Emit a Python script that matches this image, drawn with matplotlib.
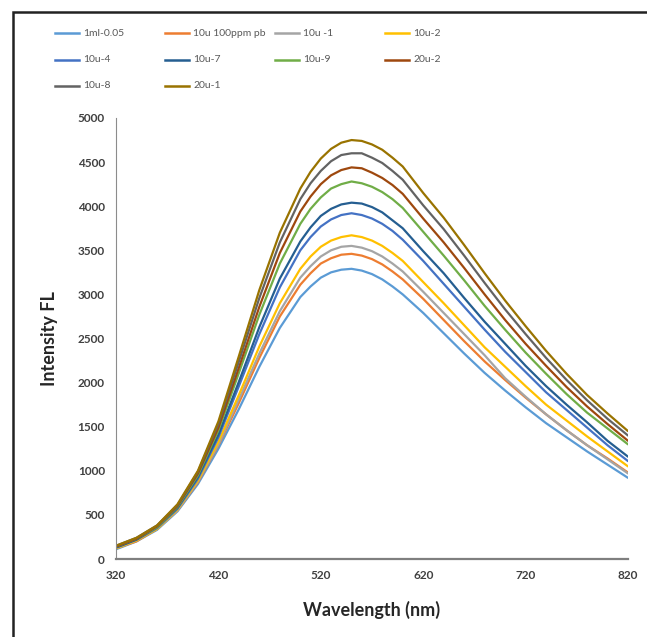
import numpy as np
import matplotlib.pyplot as plt
from matplotlib.lines import Line2D
from matplotlib.patches import Rectangle

plt.rcParams['font.family'] = ['Lato', 'DejaVu Sans']

# wavelength grid (nm), finer around the peak
wavelength = [320, 340, 360, 380, 400, 420, 440, 460, 480, 500, 510, 520, 530, 540, 550,
              560, 570, 580, 590, 600, 620, 640, 660, 680, 700, 720, 740, 760, 780, 800, 820]

# intensities
ml_005 = [110, 200, 330, 540, 850, 1250, 1700, 2180, 2620, 2970, 3090, 3190, 3250, 3280, 3290,
          3270, 3230, 3170, 3090, 3000, 2790, 2560, 2330, 2110, 1910, 1720, 1540, 1380, 1220, 1070, 920]
u10_pb = [120, 200, 340, 550, 870, 1290, 1770, 2280, 2750, 3110, 3240, 3350, 3410, 3450, 3460,
          3440, 3400, 3340, 3260, 3170, 2950, 2710, 2470, 2240, 2030, 1830, 1640, 1460, 1290, 1140, 980]
u10_1 = [120, 210, 340, 550, 880, 1300, 1810, 2330, 2810, 3190, 3320, 3430, 3500, 3540, 3550,
         3530, 3490, 3430, 3350, 3260, 3030, 2790, 2550, 2310, 2050, 1840, 1640, 1460, 1290, 1130, 970]
u10_2 = [120, 210, 340, 560, 890, 1330, 1860, 2410, 2900, 3290, 3430, 3540, 3610, 3650, 3670,
         3650, 3610, 3550, 3470, 3380, 3140, 2900, 2650, 2400, 2180, 1960, 1750, 1570, 1390, 1220, 1050]
u10_4 = [130, 220, 350, 570, 910, 1380, 1960, 2550, 3080, 3500, 3650, 3770, 3850, 3900, 3920,
         3900, 3860, 3800, 3720, 3620, 3380, 3120, 2860, 2600, 2350, 2120, 1890, 1690, 1490, 1290, 1110]
u10_7 = [130, 220, 360, 580, 930, 1410, 2010, 2630, 3180, 3600, 3760, 3890, 3970, 4020, 4040,
         4030, 3990, 3930, 3840, 3750, 3490, 3240, 2960, 2690, 2440, 2190, 1960, 1750, 1550, 1340, 1160]
u10_9 = [140, 230, 360, 590, 950, 1460, 2110, 2770, 3350, 3800, 3970, 4100, 4200, 4250, 4280,
         4260, 4220, 4160, 4080, 3980, 3710, 3440, 3160, 2870, 2600, 2340, 2100, 1870, 1660, 1480, 1300]
u20_2 = [140, 230, 370, 600, 970, 1490, 2170, 2860, 3470, 3940, 4110, 4250, 4350, 4410, 4440,
         4430, 4380, 4320, 4240, 4140, 3860, 3590, 3300, 3000, 2710, 2440, 2190, 1950, 1730, 1530, 1340]
u10_8 = [150, 240, 380, 610, 990, 1530, 2240, 2960, 3590, 4080, 4260, 4400, 4510, 4580, 4600,
         4600, 4550, 4490, 4400, 4300, 4010, 3740, 3440, 3130, 2830, 2550, 2280, 2030, 1800, 1590, 1400]
u20_1 = [150, 240, 380, 620, 1000, 1560, 2300, 3050, 3700, 4200, 4390, 4540, 4650, 4720, 4750,
         4740, 4700, 4640, 4550, 4450, 4150, 3870, 3560, 3240, 2930, 2640, 2360, 2100, 1860, 1650, 1450]

names = ['1ml-0.05', '10u 100ppm pb', '10u -1', '10u-2', '10u-4', '10u-7',
         '10u-9', '20u-2', '10u-8', '20u-1']
series = [ml_005, u10_pb, u10_1, u10_2, u10_4, u10_7, u10_9, u20_2, u10_8, u20_1]
colors = ['#5B9BD5', '#ED7D31', '#A5A5A5', '#FFC000', '#4472C4', '#255E91',
          '#70AD47', '#9E480E', '#636363', '#997300']

W, H = 647, 637
fig = plt.figure(figsize=(W / 100, H / 100), dpi=100)
ax = fig.add_axes([116 / W, 1 - 559 / H, 512 / W, 441 / H])

for vals, c in zip(series, colors):
    ax.plot(wavelength, vals, color=c, lw=1.6, solid_capstyle='round', solid_joinstyle='round')

ax.set_xlim(320, 820)
ax.set_ylim(0, 5000)
ax.set_xticks(np.arange(320, 821, 100))
ax.set_yticks(np.arange(0, 5001, 500))
ax.tick_params(length=0, labelsize=8.5, colors='#404040', pad=8)
for lab in ax.get_xticklabels() + ax.get_yticklabels():
    lab.set_fontweight('bold')
for s in ['top', 'right']:
    ax.spines[s].set_visible(False)
ax.spines['left'].set_color('#8c8c8c')
ax.spines['bottom'].set_color('#7f7f7f')
ax.spines['bottom'].set_linewidth(1.6)

ax.set_xlabel('Wavelength (nm)', fontsize=13, fontweight='bold', color='#262626', labelpad=14)
ax.set_ylabel('Intensity FL', fontsize=13, fontweight='bold', color='#262626', labelpad=14)

# legend laid out like the spreadsheet one: row-wise, four columns
col_x = [55, 165, 275, 385]
row_y = [33, 60, 86]
for i, (name, c) in enumerate(zip(names, colors)):
    r, k = divmod(i, 4)
    x0, y0 = col_x[k], row_y[r]
    fig.add_artist(Line2D([x0 / W, (x0 + 24) / W], [1 - y0 / H, 1 - y0 / H],
                          color=c, lw=1.8, transform=fig.transFigure))
    fig.text((x0 + 28) / W, 1 - y0 / H, name, fontsize=7.5, color='#595959',
             va='center', ha='left')

# outer frame
fig.add_artist(Rectangle((13 / W, -0.1), 1.2, 1 - 12 / H + 0.1, fill=False,
                         edgecolor='#222222', lw=1.8, transform=fig.transFigure))

fig.savefig('out.png', dpi=100)
